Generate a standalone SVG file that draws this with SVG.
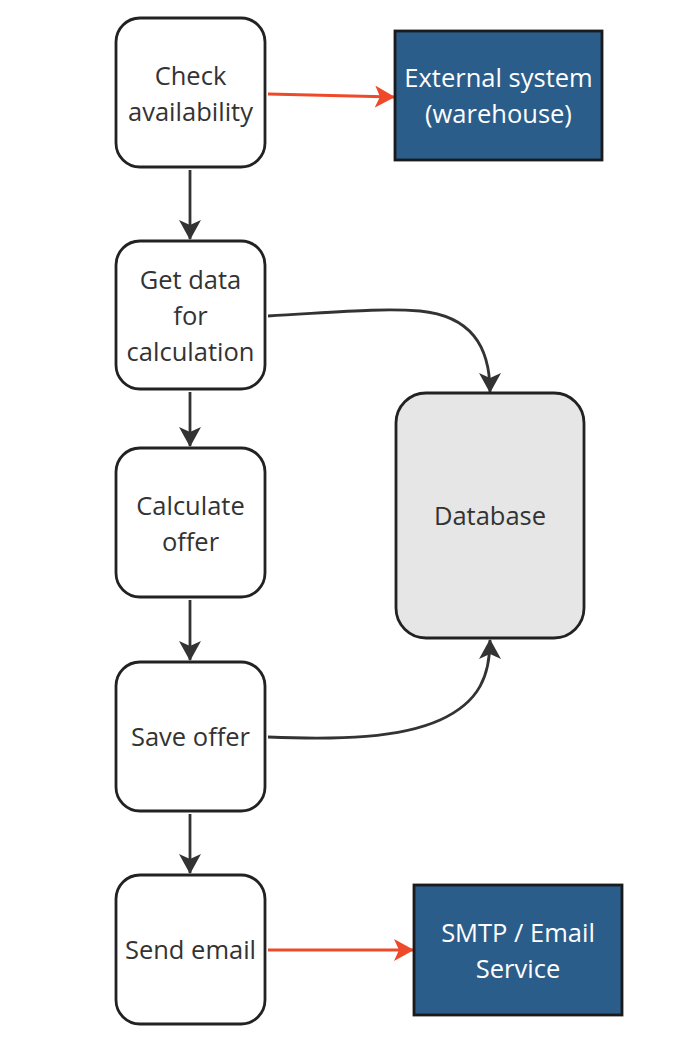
<svg xmlns="http://www.w3.org/2000/svg" width="678" height="1042" viewBox="0 0 678 1042">
<defs>
<style>
.n{fill:#fff;stroke:#222;stroke-width:2.8}
.ext{fill:#2a5d8a;stroke:#1a1a1a;stroke-width:2.8}
.db{fill:#e6e6e6;stroke:#222;stroke-width:2.8}
.t{font-family:"Open Sans","Noto Sans",sans-serif;font-size:25.5px;fill:#333;text-anchor:middle}
.tw{font-family:"Open Sans","Noto Sans",sans-serif;font-size:25.5px;fill:#fff;text-anchor:middle}
.c{fill:none;stroke:#333;stroke-width:2.8}
.r{fill:none;stroke:#ee4a2a;stroke-width:2.8}
</style>
<marker id="ah" viewBox="0 0 20 22" refX="19" refY="11" markerWidth="20" markerHeight="22" markerUnits="userSpaceOnUse" orient="auto">
<path d="M0,0 L20,11 L0,22 L5,11 Z" fill="#333"/>
</marker>
<marker id="ahr" viewBox="0 0 20 22" refX="19" refY="11" markerWidth="20" markerHeight="22" markerUnits="userSpaceOnUse" orient="auto">
<path d="M0,0 L20,11 L0,22 L5,11 Z" fill="#ee4a2a"/>
</marker>
</defs>
<g id="connectors">
<path class="r" d="M268,94 L394,97" marker-end="url(#ahr)"/>
<path class="c" d="M190,170 L190,239" marker-end="url(#ah)"/>
<path class="c" d="M190,392 L190,446" marker-end="url(#ah)"/>
<path class="c" d="M190,600 L190,660" marker-end="url(#ah)"/>
<path class="c" d="M190,814 L190,873" marker-end="url(#ah)"/>
<path class="r" d="M268,950 L413,950" marker-end="url(#ahr)"/>
<path class="c" d="M268,316 C340,312 380,308 420,311 C470,316 490,345 490,392" marker-end="url(#ah)"/>
<path class="c" d="M268,737 C340,740 400,738 440,720 C480,702 490,675 490,640" marker-end="url(#ah)"/>
</g>
<g id="check">
<rect class="n" x="116" y="18" width="149" height="149" rx="24"/>
<text class="t" x="190.5" y="85">Check</text>
<text class="t" x="190.5" y="121">availability</text>
</g>
<g id="external">
<rect class="ext" x="395" y="31" width="207" height="129"/>
<text class="tw" x="498.5" y="87">External system</text>
<text class="tw" x="498.5" y="123">(warehouse)</text>
</g>
<g id="getdata">
<rect class="n" x="116" y="241" width="149" height="148" rx="24"/>
<text class="t" x="190.5" y="289">Get data</text>
<text class="t" x="190.5" y="325">for</text>
<text class="t" x="190.5" y="361">calculation</text>
</g>
<g id="calculate">
<rect class="n" x="116" y="448" width="149" height="149" rx="24"/>
<text class="t" x="190.5" y="515">Calculate</text>
<text class="t" x="190.5" y="551">offer</text>
</g>
<g id="database">
<rect class="db" x="396" y="393" width="188" height="245" rx="30"/>
<text class="t" x="490" y="525">Database</text>
</g>
<g id="save">
<rect class="n" x="116" y="662" width="149" height="149" rx="24"/>
<text class="t" x="190.5" y="746">Save offer</text>
</g>
<g id="send">
<rect class="n" x="116" y="875" width="149" height="149" rx="24"/>
<text class="t" x="190.5" y="959">Send email</text>
</g>
<g id="smtp">
<rect class="ext" x="414" y="885" width="208" height="130"/>
<text class="tw" x="518" y="942">SMTP / Email</text>
<text class="tw" x="518" y="978">Service</text>
</g>
</svg>
